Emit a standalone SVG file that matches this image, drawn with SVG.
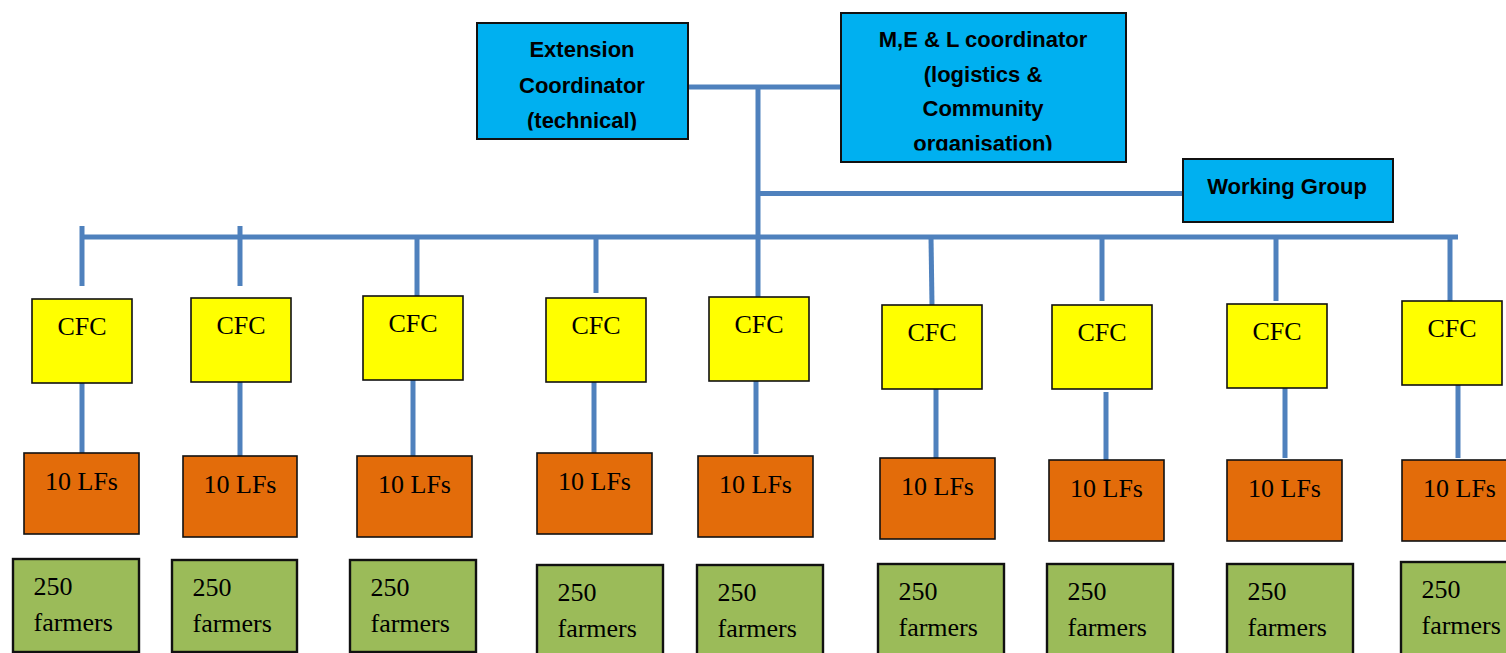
<svg xmlns="http://www.w3.org/2000/svg" width="1506" height="653" viewBox="0 0 1506 653">
<style>
.blue{fill:#00B0F0;stroke:#111;stroke-width:2}
.cfc{fill:#FFFF00;stroke:#111;stroke-width:1.6}
.lf{fill:#E36C0A;stroke:#111;stroke-width:1.6}
.farm{fill:#9BBB59;stroke:#111;stroke-width:2.4}
.hd{font-family:"Liberation Sans",Arial,sans-serif;font-weight:bold;font-size:22px;fill:#000;text-anchor:middle}
.tm{font-family:"Liberation Serif","Times New Roman",serif;font-size:26px;fill:#000}
.c{text-anchor:middle}
.ln{stroke:#4F81BD;stroke-width:5;fill:none}
</style>
<defs>
<clipPath id="clipExt"><rect x="476" y="22" width="212" height="108.5"/></clipPath>
<clipPath id="clipMel"><rect x="840" y="12" width="286" height="138.5"/></clipPath>
</defs>
<rect width="1506" height="653" fill="#fff"/>
<g id="connectors" class="ln">
<line x1="688" y1="87" x2="840" y2="87"/>
<line x1="758" y1="87" x2="758" y2="298"/>
<line x1="758" y1="193.5" x2="1183" y2="193.5"/>
<line x1="80" y1="237" x2="1458" y2="237"/>
<line x1="82" y1="226" x2="82" y2="286"/>
<line x1="240" y1="226" x2="240" y2="286"/>
<line x1="417" y1="237" x2="417" y2="296"/>
<line x1="596" y1="237" x2="596" y2="293"/>
<line x1="931" y1="237" x2="932" y2="305"/>
<line x1="1102" y1="237" x2="1102" y2="301"/>
<line x1="1276" y1="237" x2="1276" y2="301"/>
<line x1="1450" y1="237" x2="1450" y2="303"/>
<line x1="82" y1="383" x2="82" y2="453"/>
<line x1="240" y1="382" x2="240" y2="456"/>
<line x1="413" y1="380" x2="413" y2="456"/>
<line x1="594" y1="382" x2="594" y2="453"/>
<line x1="756" y1="381" x2="756" y2="454"/>
<line x1="936" y1="387" x2="936" y2="458"/>
<line x1="1106" y1="392" x2="1106" y2="460"/>
<line x1="1285" y1="385" x2="1285" y2="458"/>
<line x1="1458" y1="385" x2="1458" y2="458"/>
</g>
<g id="extension-coordinator">
<rect class="blue" x="477" y="23" width="211" height="116"/>
<g clip-path="url(#clipExt)">
<text class="hd" x="582" y="57">Extension</text>
<text class="hd" x="582" y="92.5">Coordinator</text>
<text class="hd" x="582" y="128">(technical)</text>
</g>
</g>
<g id="mel-coordinator">
<rect class="blue" x="841" y="13" width="285" height="149"/>
<g clip-path="url(#clipMel)">
<text class="hd" x="983" y="47">M,E &amp; L coordinator</text>
<text class="hd" x="983" y="82">(logistics &amp;</text>
<text class="hd" x="983" y="116">Community</text>
<text class="hd" x="983" y="151">organisation)</text>
</g>
</g>
<g id="working-group">
<rect class="blue" x="1183" y="159" width="210" height="63"/>
<text class="hd" x="1287" y="194">Working Group</text>
</g>
<g id="cfc1"><rect class="cfc" x="32" y="299" width="100" height="84"/><text class="tm c" x="82" y="335">CFC</text></g>
<g id="cfc2"><rect class="cfc" x="191" y="298" width="100" height="84"/><text class="tm c" x="241" y="334">CFC</text></g>
<g id="cfc3"><rect class="cfc" x="363" y="296" width="100" height="84"/><text class="tm c" x="413" y="332">CFC</text></g>
<g id="cfc4"><rect class="cfc" x="546" y="298" width="100" height="84"/><text class="tm c" x="596" y="334">CFC</text></g>
<g id="cfc5"><rect class="cfc" x="709" y="297" width="100" height="84"/><text class="tm c" x="759" y="333">CFC</text></g>
<g id="cfc6"><rect class="cfc" x="882" y="305" width="100" height="84"/><text class="tm c" x="932" y="341">CFC</text></g>
<g id="cfc7"><rect class="cfc" x="1052" y="305" width="100" height="84"/><text class="tm c" x="1102" y="341">CFC</text></g>
<g id="cfc8"><rect class="cfc" x="1227" y="304" width="100" height="84"/><text class="tm c" x="1277" y="340">CFC</text></g>
<g id="cfc9"><rect class="cfc" x="1402" y="301" width="100" height="84"/><text class="tm c" x="1452" y="337">CFC</text></g>
<g id="lf1"><rect class="lf" x="24" y="453" width="115" height="81"/><text class="tm c" x="81.5" y="490">10 LFs</text></g>
<g id="lf2"><rect class="lf" x="183" y="456" width="114" height="81"/><text class="tm c" x="240" y="493">10 LFs</text></g>
<g id="lf3"><rect class="lf" x="357" y="456" width="115" height="81"/><text class="tm c" x="414.5" y="493">10 LFs</text></g>
<g id="lf4"><rect class="lf" x="537" y="453" width="115" height="81"/><text class="tm c" x="594.5" y="490">10 LFs</text></g>
<g id="lf5"><rect class="lf" x="698" y="456" width="115" height="81"/><text class="tm c" x="755.5" y="493">10 LFs</text></g>
<g id="lf6"><rect class="lf" x="880" y="458" width="115" height="81"/><text class="tm c" x="937.5" y="495">10 LFs</text></g>
<g id="lf7"><rect class="lf" x="1049" y="460" width="115" height="81"/><text class="tm c" x="1106.5" y="497">10 LFs</text></g>
<g id="lf8"><rect class="lf" x="1227" y="460" width="115" height="81"/><text class="tm c" x="1284.5" y="497">10 LFs</text></g>
<g id="lf9"><rect class="lf" x="1402" y="460" width="115" height="81"/><text class="tm c" x="1459.5" y="497">10 LFs</text></g>
<g id="farm1"><rect class="farm" x="13" y="559" width="126" height="93"/><text class="tm" x="33.5" y="595">250</text><text class="tm" x="33.5" y="631">farmers</text></g>
<g id="farm2"><rect class="farm" x="172" y="560" width="125" height="92"/><text class="tm" x="192.5" y="596">250</text><text class="tm" x="192.5" y="632">farmers</text></g>
<g id="farm3"><rect class="farm" x="350" y="560" width="126" height="92"/><text class="tm" x="370.5" y="596">250</text><text class="tm" x="370.5" y="632">farmers</text></g>
<g id="farm4"><rect class="farm" x="537" y="565" width="126" height="95"/><text class="tm" x="557.5" y="601">250</text><text class="tm" x="557.5" y="637">farmers</text></g>
<g id="farm5"><rect class="farm" x="697" y="565" width="126" height="95"/><text class="tm" x="717.5" y="601">250</text><text class="tm" x="717.5" y="637">farmers</text></g>
<g id="farm6"><rect class="farm" x="878" y="564" width="126" height="95"/><text class="tm" x="898.5" y="600">250</text><text class="tm" x="898.5" y="636">farmers</text></g>
<g id="farm7"><rect class="farm" x="1047" y="564" width="126" height="95"/><text class="tm" x="1067.5" y="600">250</text><text class="tm" x="1067.5" y="636">farmers</text></g>
<g id="farm8"><rect class="farm" x="1227" y="564" width="126" height="95"/><text class="tm" x="1247.5" y="600">250</text><text class="tm" x="1247.5" y="636">farmers</text></g>
<g id="farm9"><rect class="farm" x="1401" y="562" width="126" height="95"/><text class="tm" x="1421.5" y="598">250</text><text class="tm" x="1421.5" y="634">farmers</text></g>
</svg>
